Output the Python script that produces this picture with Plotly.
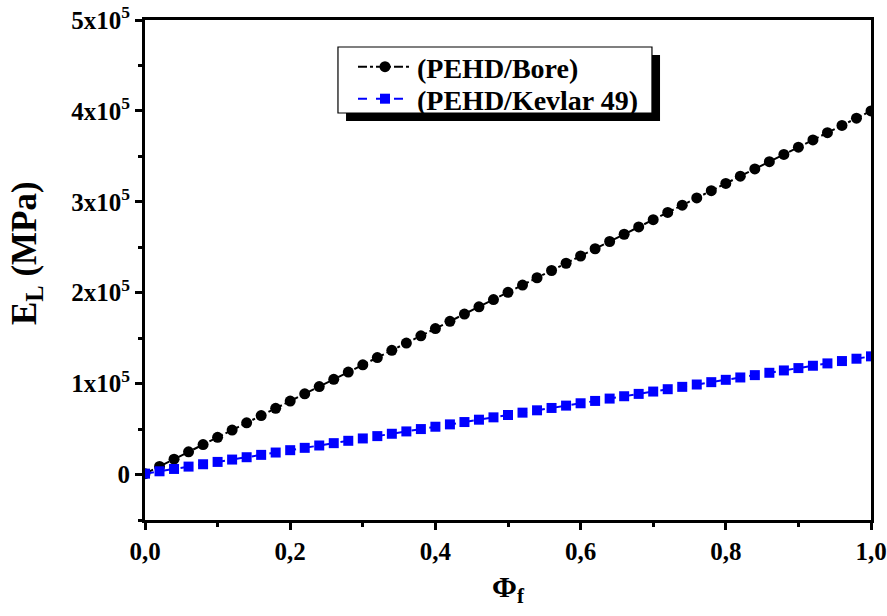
import plotly.graph_objects as go

phi = [0.00, 0.02, 0.04, 0.06, 0.08, 0.10, 0.12, 0.14, 0.16, 0.18,
       0.20, 0.22, 0.24, 0.26, 0.28, 0.30, 0.32, 0.34, 0.36, 0.38,
       0.40, 0.42, 0.44, 0.46, 0.48, 0.50, 0.52, 0.54, 0.56, 0.58,
       0.60, 0.62, 0.64, 0.66, 0.68, 0.70, 0.72, 0.74, 0.76, 0.78,
       0.80, 0.82, 0.84, 0.86, 0.88, 0.90, 0.92, 0.94, 0.96, 0.98, 1.00]

e_bore = [1000, 8980, 16960, 24940, 32920, 40900, 48880, 56860, 64840, 72820,
          80800, 88780, 96760, 104740, 112720, 120700, 128680, 136660, 144640, 152620,
          160600, 168580, 176560, 184540, 192520, 200500, 208480, 216460, 224440, 232420,
          240400, 248380, 256360, 264340, 272320, 280300, 288280, 296260, 304240, 312220,
          320200, 328180, 336160, 344140, 352120, 360100, 368080, 376060, 384040, 392020, 400000]

e_kevlar = [1000, 3580, 6160, 8740, 11320, 13900, 16480, 19060, 21640, 24220,
            26800, 29380, 31960, 34540, 37120, 39700, 42280, 44860, 47440, 50020,
            52600, 55180, 57760, 60340, 62920, 65500, 68080, 70660, 73240, 75820,
            78400, 80980, 83560, 86140, 88720, 91300, 93880, 96460, 99040, 101620,
            104200, 106780, 109360, 111940, 114520, 117100, 119680, 122260, 124840, 127420, 130000]

series_names = ["(PEHD/Bore)", "(PEHD/Kevlar 49)"]

x_tickvals = [0.0, 0.2, 0.4, 0.6, 0.8, 1.0]
x_ticktext = ["0,0", "0,2", "0,4", "0,6", "0,8", "1,0"]
y_tickvals = [0, 100000, 200000, 300000, 400000, 500000]
y_ticktext = ["0", "1x10<sup>5</sup>", "2x10<sup>5</sup>", "3x10<sup>5</sup>",
              "4x10<sup>5</sup>", "5x10<sup>5</sup>"]

FONT = "Liberation Serif"

fig = go.Figure()
fig.add_trace(go.Scatter(
    x=phi, y=e_bore, name="<b>%s</b>" % series_names[0], mode="lines+markers",
    line=dict(color="black", width=2, dash="dashdot"),
    marker=dict(symbol="circle", size=11, color="black"),
    legend="legend",
))
fig.add_trace(go.Scatter(
    x=phi, y=e_kevlar, name="<b>%s</b>" % series_names[1], mode="lines+markers",
    line=dict(color="blue", width=2, dash="dash"),
    marker=dict(symbol="square", size=10, color="blue"),
    legend="legend2",
))

axis_common = dict(
    showline=True, linecolor="black", linewidth=3, mirror=True,
    ticks="outside", tickcolor="black", tickwidth=3, ticklen=7,
    showgrid=False, zeroline=False, automargin=False,
    tickfont=dict(family=FONT, size=25, color="black"),
)

fig.update_xaxes(
    range=[0, 1.0], tickvals=x_tickvals, ticktext=["<b>%s</b>" % t for t in x_ticktext],
    minor=dict(ticks="outside", ticklen=4, tickwidth=3, tickcolor="black", dtick=0.1, showgrid=False),
    title=dict(text="<b>Φ<sub>f</sub></b>", font=dict(family=FONT, size=30, color="black"), standoff=12),
    **axis_common,
)
fig.update_yaxes(
    range=[-50000, 500000], tickvals=y_tickvals, ticktext=["<b>%s</b>" % t for t in y_ticktext],
    minor=dict(ticks="outside", ticklen=4, tickwidth=3, tickcolor="black", dtick=50000, tick0=0, showgrid=False),
    **axis_common,
)

# y-axis title as annotation (placed slightly above centre like the reference)
fig.add_annotation(
    text="<b>E<sub>L</sub> (MPa)</b>", textangle=-90, showarrow=False,
    xref="paper", yref="paper", x=-0.1625, y=0.534, xanchor="center", yanchor="middle",
    font=dict(family=FONT, size=35, color="black"),
)

# legend frame with drop shadow
fig.add_shape(type="rect", xref="paper", yref="paper",
              x0=0.2769, x1=0.7094, y0=0.798, y1=0.930,
              fillcolor="black", line=dict(width=0), layer="above")
fig.add_shape(type="rect", xref="paper", yref="paper",
              x0=0.2658, x1=0.6983, y0=0.814, y1=0.946,
              fillcolor="white", line=dict(color="black", width=1.2), layer="above")

legend_common = dict(
    xanchor="left", yanchor="middle",
    bgcolor="rgba(0,0,0,0)", borderwidth=0,
    font=dict(family=FONT, size=28, color="black"),
    itemwidth=54,
)

fig.update_layout(
    width=887, height=616,
    margin=dict(l=145, r=16, t=20, b=96),
    paper_bgcolor="white", plot_bgcolor="white",
    showlegend=True,
    legend=dict(x=0.2865, y=0.906, **legend_common),
    legend2=dict(x=0.2865, y=0.842, **legend_common),
)

fig.write_html(
    "out.html",
    config={"displayModeBar": False},
    post_script="document.body.style.margin='0px';document.body.style.overflow='hidden';",
)
